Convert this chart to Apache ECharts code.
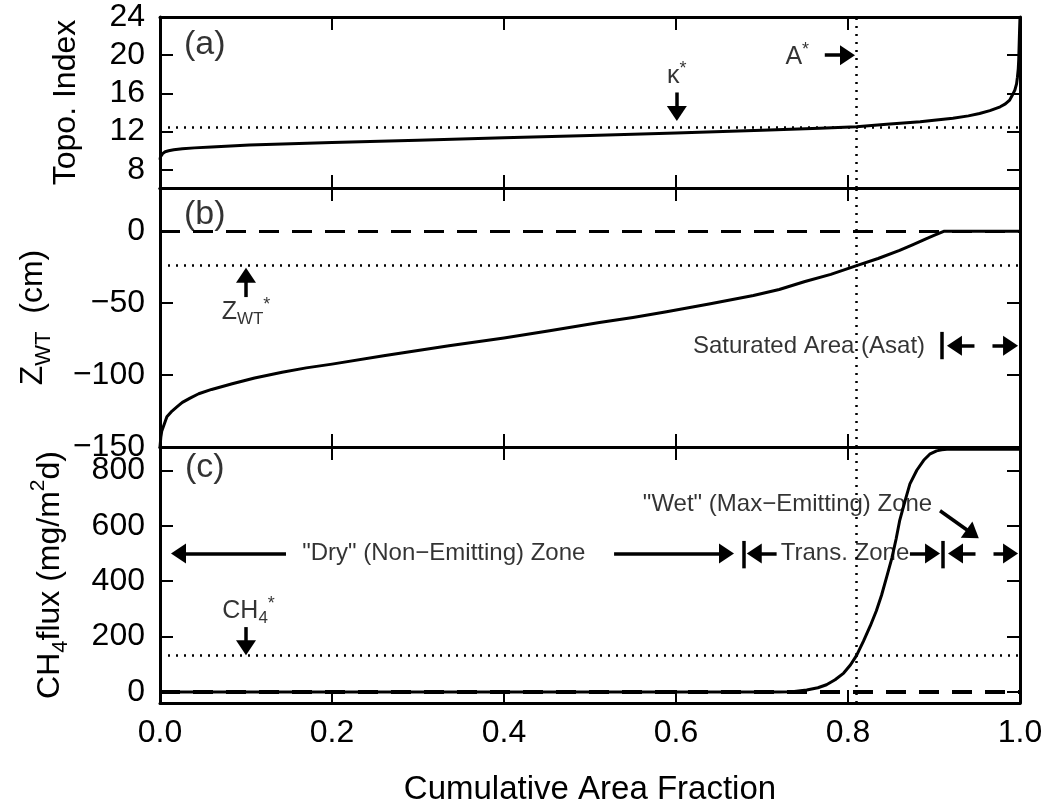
<!DOCTYPE html>
<html><head><meta charset="utf-8">
<script src="https://cdn.jsdelivr.net/npm/echarts@6/dist/echarts.min.js"></script>
<style>html,body{margin:0;padding:0;background:#fff}#chart{width:1045px;height:810px}</style>
</head><body><div id="chart"></div>
<script>
// ---------------- data ----------------
const topoArea  = [0, 0.0005, 0.003, 0.006, 0.01, 0.016, 0.026, 0.04, 0.06, 0.104, 0.2, 0.3, 0.4, 0.5, 0.6, 0.7, 0.767, 0.81, 0.845, 0.884, 0.9, 0.922, 0.94, 0.953, 0.965, 0.977, 0.983, 0.988, 0.991, 0.994, 0.996, 0.997, 0.998, 0.9985, 0.9995, 1.0];
const topoIndex = [9.05, 9.35, 9.7, 9.9, 10.0, 10.1, 10.2, 10.3, 10.4, 10.6, 10.85, 11.1, 11.35, 11.6, 11.85, 12.15, 12.35, 12.5, 12.77, 13.04, 13.2, 13.4, 13.65, 13.9, 14.2, 14.6, 14.9, 15.3, 15.8, 16.35, 17.0, 17.7, 18.6, 19.5, 22.6, 24.0];

const zwtArea   = [0, 0.001, 0.002, 0.005, 0.008, 0.014, 0.02, 0.026, 0.035, 0.045, 0.06, 0.084, 0.11, 0.142, 0.17, 0.2, 0.26, 0.336, 0.4, 0.453, 0.511, 0.55, 0.589, 0.64, 0.69, 0.72, 0.75, 0.78, 0.81, 0.835, 0.86, 0.875, 0.89, 0.90, 0.912, 1.0];
const zwtDepth  = [-150, -143, -139, -134, -129, -125, -122, -119, -116, -113, -110, -106, -102, -98, -95, -92.4, -86.6, -79.6, -74.3, -69.2, -63.5, -60, -56, -50.5, -44.7, -40.5, -35, -30, -24, -19, -13.4, -9.5, -5.5, -3, 0, 0];

const fluxArea  = [0, 0.72, 0.735, 0.752, 0.765, 0.775, 0.785, 0.795, 0.803, 0.81, 0.818, 0.826, 0.833, 0.839, 0.845, 0.851, 0.856, 0.86, 0.866, 0.872, 0.88, 0.888, 0.895, 0.903, 0.909, 0.915, 1.0];
const ch4Flux   = [0, 0, 1, 7, 15, 26, 44, 68, 98, 132, 183, 239, 293, 349, 415, 483, 553, 617, 686, 751, 800, 836, 858, 870, 874, 876, 876];

const xTickValues    = [0, 0.2, 0.4, 0.6, 0.8, 1.0];
const topoTickValues = [8, 12, 16, 20, 24];
const zwtTickValues  = [-150, -100, -50, 0];
const fluxTickValues = [0, 200, 400, 600, 800];

const aStar = 0.81;       // A*
const kappaStar = 12.5;   // kappa*
const zwtStar = -24;      // Z_WT*
const ch4Star = 132;      // CH4*

// annotation texts (data coordinates)
const textsA = [
  {x: 0.052, y: 21.15, t: '{p|(a)}'},
  {x: 0.601, y: 17.8,  t: '{m|\u03ba}{sup|*}'},
  {x: 0.741, y: 19.8,  t: '{m|A}{sup|*}'}
];
const textsB = [
  {x: 0.052, y: 11.5, t: '{p|(b)}'},
  {x: 0.10,  y: -56,  t: '{m|Z}{sub|WT}{sup|*}'},
  {x: 0.7547, y: -80, t: '{z|Saturated Area (Asat)}'}
];
const textsC = [
  {x: 0.052, y: 808, t: '{p|(c)}'},
  {x: 0.103, y: 292, t: '{m|CH}{sub|4}{sup|*}'},
  {x: 0.330, y: 500, t: '{z|"Dry" (Non\u2212Emitting) Zone}'},
  {x: 0.7965, y: 500, t: '{z|Trans. Zone}'},
  {x: 0.7297, y: 676, t: '{z|"Wet" (Max\u2212Emitting) Zone}'}
];
// arrows: [x1,y1,x2,y2] (head at second point)
const arrowsA = [[0.601, 16.1, 0.601, 13.9], [0.773, 20.0, 0.7994, 20.0]];
const arrowsB = [[0.10, -45.8, 0.10, -30.7]];
const arrowsC = [[0.10, 234, 0.10, 159], [0.1465, 500, 0.0215, 500], [0.528, 500, 0.6587, 500],
                 [0.717, 500, 0.691, 500], [0.872, 500, 0.8983, 500], [0.907, 654, 0.945, 570]];
// double dashed arrows and bars
const dblArrowsB = [[0.9238, -79.6, 0.989, -79.6]];
const dblArrowsC = [[0.925, 500, 0.989, 500]];
const barsB = [[0.9088, -70, 0.9088, -89]];
const barsC = [[0.679, 446, 0.679, 545], [0.9105, 446, 0.9105, 545]];

// ---------------- styling ----------------
const FONT = '"Liberation Sans", Arial, Helvetica, sans-serif';
const BLACK = '#000';
const rich = {
  m:   {fontSize: 25, fontFamily: FONT, color: BLACK, lineHeight: 32, verticalAlign: 'middle'},
  sub: {fontSize: 17, fontFamily: FONT, color: BLACK, lineHeight: 17, verticalAlign: 'bottom'},
  sup: {fontSize: 18, fontFamily: FONT, color: BLACK, lineHeight: 18, verticalAlign: 'top'},
  z:   {fontSize: 24, fontFamily: FONT, color: BLACK, lineHeight: 30},
  p:   {fontSize: 34, fontFamily: FONT, color: BLACK, lineHeight: 40}
};
const nameRich = {
  m:   {fontSize: 32, fontFamily: FONT, color: BLACK, lineHeight: 44, verticalAlign: 'middle'},
  sub: {fontSize: 22, fontFamily: FONT, color: BLACK, lineHeight: 22, verticalAlign: 'bottom'},
  sup: {fontSize: 21, fontFamily: FONT, color: BLACK, lineHeight: 21, verticalAlign: 'top'}
};
const pair = (xs, ys) => xs.map((x, i) => [x, ys[i]]);
const minus = v => String(v).replace('-', '\u2212');

const grids = [
  {left: 160, right: 25, top: 17, height: 171},
  {left: 160, right: 25, top: 188, height: 259},
  {left: 160, right: 25, top: 447, height: 256}
].map(g => Object.assign(g, {outerBoundsMode: 'none', containLabel: false}));

function xAx(gi, pos, labels) {
  return {
    type: 'value', gridIndex: gi, position: pos, min: 0, max: 1,
    axisLine: {show: true, onZero: false, lineStyle: {color: BLACK, width: 3}},
    axisTick: {show: true, inside: true, length: 13, customValues: xTickValues, lineStyle: {color: BLACK, width: 2}},
    axisLabel: {show: labels, customValues: xTickValues, margin: 14, color: BLACK, fontSize: 32, fontFamily: FONT,
                formatter: v => v.toFixed(1)},
    splitLine: {show: false},
    name: labels ? 'Cumulative Area Fraction' : '', nameLocation: 'middle', nameGap: 70,
    nameTextStyle: {fontSize: 33, fontFamily: FONT, color: BLACK}
  };
}
function yAx(gi, pos, min, max, ticks, name, gap) {
  const left = pos === 'left';
  return {
    type: 'value', gridIndex: gi, position: pos, min: min, max: max,
    axisLine: {show: true, onZero: false, lineStyle: {color: BLACK, width: 3}},
    axisTick: {show: true, inside: true, length: 13, customValues: ticks, lineStyle: {color: BLACK, width: 2}},
    axisLabel: {show: left, customValues: ticks, margin: 15, color: BLACK, fontSize: 32, fontFamily: FONT, formatter: minus},
    splitLine: {show: false},
    name: left ? name : '', nameLocation: 'middle', nameRotate: 90, nameGap: gap,
    nameTextStyle: {fontSize: 32, fontFamily: FONT, color: BLACK, rich: nameRich}
  };
}

const dotted = {color: BLACK, width: 2.5, type: [2, 6]};
const dashedB = {color: BLACK, width: 3, type: [20, 13]};
const dashedC = {color: BLACK, width: 4, type: [20, 13]};
const HEAD = [20, 15];

function refSeries(gi, lines) {
  return {
    type: 'line', xAxisIndex: 2 * gi, yAxisIndex: 2 * gi, data: [], silent: true,
    markLine: {silent: true, symbol: 'none', label: {show: false}, animation: false, data: lines}
  };
}
function textSeries(gi, texts, arrows, dbl, bars) {
  const ml = [];
  arrows.forEach(a => ml.push([
    {coord: [a[0], a[1]], symbol: 'none', lineStyle: {color: BLACK, width: 3.5, type: 'solid'}},
    {coord: [a[2], a[3]], symbol: 'triangle', symbolSize: HEAD}
  ]));
  dbl.forEach(a => ml.push([
    {coord: [a[0], a[1]], symbol: 'triangle', symbolSize: HEAD, lineStyle: {color: BLACK, width: 3.5, type: [20, 18]}},
    {coord: [a[2], a[3]], symbol: 'triangle', symbolSize: HEAD}
  ]));
  bars.forEach(a => ml.push([
    {coord: [a[0], a[1]], symbol: 'none', lineStyle: {color: BLACK, width: 3.5, type: 'solid'}},
    {coord: [a[2], a[3]], symbol: 'none'}
  ]));
  return {
    type: 'scatter', xAxisIndex: 2 * gi, yAxisIndex: 2 * gi, symbolSize: 0, silent: true, animation: false,
    itemStyle: {color: BLACK},
    label: {show: true, position: 'inside', color: BLACK, textBorderWidth: 0, rich: rich},
    data: texts.map(o => ({value: [o.x, o.y], label: {formatter: o.t}})),
    markLine: {silent: true, animation: false, label: {show: false}, itemStyle: {color: BLACK},
               lineStyle: {color: BLACK}, data: ml}
  };
}
function curve(gi, xs, ys) {
  return {
    type: 'line', xAxisIndex: 2 * gi, yAxisIndex: 2 * gi, data: pair(xs, ys),
    showSymbol: false, symbol: 'none', smooth: false, animation: false, silent: true,
    lineStyle: {color: BLACK, width: 3, join: 'round'}
  };
}

const option = {
  backgroundColor: '#fff',
  animation: false,
  grid: grids,
  xAxis: [xAx(0, 'bottom', false), xAx(0, 'top', false),
          xAx(1, 'bottom', false), xAx(1, 'top', false),
          xAx(2, 'bottom', true),  xAx(2, 'top', false)],
  yAxis: [yAx(0, 'left', 6.1, 24, topoTickValues, 'Topo. Index', 78), yAx(0, 'right', 6.1, 24, topoTickValues, '', 0),
          yAx(1, 'left', -150, 30, zwtTickValues, '{m|Z}{sub|WT}{m|  (cm)}', 105), yAx(1, 'right', -150, 30, zwtTickValues, '', 0),
          yAx(2, 'left', -40, 884, fluxTickValues, '{m|CH}{sub|4}{m|flux (mg/m}{sup|2}{m|d)}', 88), yAx(2, 'right', -40, 884, fluxTickValues, '', 0)],
  series: [
    refSeries(0, [{yAxis: kappaStar, lineStyle: dotted}, {xAxis: aStar, lineStyle: dotted}]),
    refSeries(1, [{yAxis: 0, lineStyle: dashedB}, {yAxis: zwtStar, lineStyle: dotted}, {xAxis: aStar, lineStyle: dotted}]),
    refSeries(2, [{yAxis: 0, lineStyle: dashedC}, {yAxis: ch4Star, lineStyle: dotted}, {xAxis: aStar, lineStyle: dotted}]),
    curve(0, topoArea, topoIndex),
    curve(1, zwtArea, zwtDepth),
    curve(2, fluxArea, ch4Flux),
    textSeries(0, textsA, arrowsA, [], []),
    textSeries(1, textsB, arrowsB, dblArrowsB, barsB),
    textSeries(2, textsC, arrowsC, dblArrowsC, barsC)
  ]
};
const chart = echarts.init(document.getElementById('chart'), null, {renderer: 'canvas'});
chart.setOption(option);
</script></body></html>
